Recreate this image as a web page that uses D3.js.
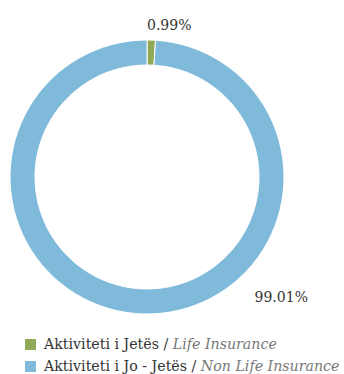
<!DOCTYPE html>
<html>
<head>
<meta charset="utf-8">
<script src="https://cdn.jsdelivr.net/npm/d3@7"></script>
<style>
  body { margin: 0; background: #fff; }
</style>
</head>
<body>
<svg width="344" height="374"></svg>
<script>
// data
var categories = ["Life Insurance", "Non Life Insurance"];
var labelsAl = ["Aktiviteti i Jetës", "Aktiviteti i Jo - Jetës"];
var shares = [0.99, 99.01];

var colors = ["#8fa957", "#80badb"];
var serif = "DejaVu Serif";

var svg = d3.select("svg"),
    width = +svg.attr("width"),
    height = +svg.attr("height");

var cx = 147, cy = 177,
    outerR = 137, innerR = 112;

var pie = d3.pie().sort(null).value(function(d) { return d; });
var arc = d3.arc().innerRadius(innerR).outerRadius(outerR);

var g = svg.append("g")
    .attr("transform", "translate(" + cx + "," + cy + ")");

var arcs = pie(shares);

g.selectAll("path")
  .data(arcs)
  .enter().append("path")
    .attr("d", arc)
    .attr("fill", function(d, i) { return colors[i]; })
    .attr("stroke", "#fff")
    .attr("stroke-width", 1);

// labels: small slice on top, big one down-right (like the excel layout)
var labelAngle = [arcs[0].startAngle, 2.41];
var labelR = [152, 161];
var fmt = function(v) { return v.toFixed(2) + "%"; };

g.selectAll("text.pct")
  .data(arcs)
  .enter().append("text")
    .attr("class", "pct")
    .attr("x", function(d, i) { return Math.sin(labelAngle[i]) * labelR[i]; })
    .attr("y", function(d, i) { return -Math.cos(labelAngle[i]) * labelR[i]; })
    .attr("dy", "0.35em")
    .attr("font-family", serif)
    .attr("font-size", 14)
    .attr("fill", "#333")
    .text(function(d) { return fmt(d.data); });

// legend
var legend = svg.append("g")
    .attr("transform", "translate(25,339)");

var row = legend.selectAll("g")
  .data(categories)
  .enter().append("g")
    .attr("transform", function(d, i) { return "translate(0," + (i * 22) + ")"; });

row.append("rect")
    .attr("width", 11)
    .attr("height", 11)
    .attr("fill", function(d, i) { return colors[i]; });

var t = row.append("text")
    .attr("x", 19)
    .attr("y", 10)
    .attr("font-family", serif)
    .attr("font-size", 14.2)
    .attr("fill", "#333");

t.append("tspan").text(function(d, i) { return labelsAl[i] + " / "; });
t.append("tspan")
    .attr("font-style", "italic")
    .attr("fill", "#777")
    .text(function(d) { return d; });
</script>
</body>
</html>
